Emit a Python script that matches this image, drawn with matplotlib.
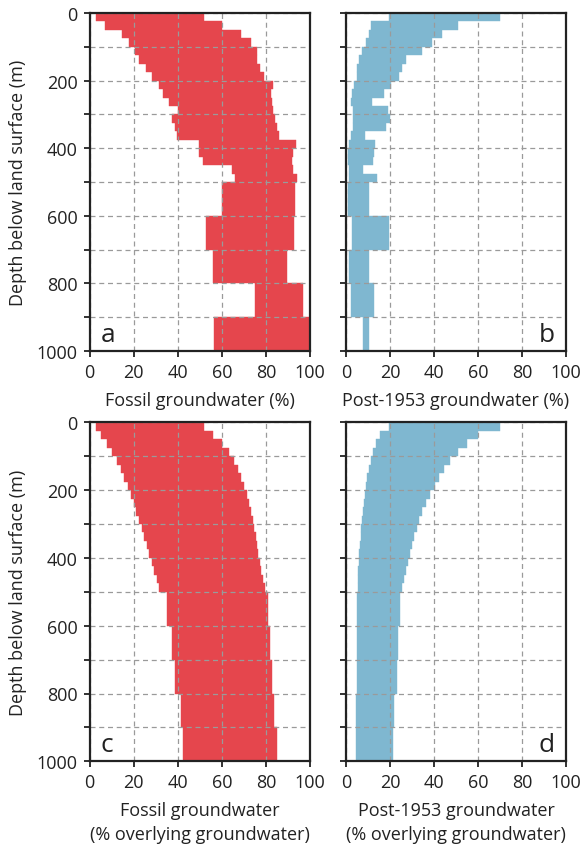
import numpy as np
import matplotlib
matplotlib.use('Agg')
import matplotlib.pyplot as plt

plt.rcParams['font.family'] = ['Open Sans', 'DejaVu Sans']

# depth bins (m): 25 m down to 500 m, then 100 m
depth_top = [0, 25, 50, 75, 100, 125, 150, 175, 200, 225, 250, 275, 300, 325, 350,
             375, 400, 425, 450, 475, 500, 600, 700, 800, 900]
depth_bottom = [25, 50, 75, 100, 125, 150, 175, 200, 225, 250, 275, 300, 325, 350, 375,
                400, 425, 450, 475, 500, 600, 700, 800, 900, 1000]

# a: fossil groundwater (%)
fossil_lo = [2.8, 7.0, 14.9, 17.9, 20.6, 22.6, 25.5, 28.2, 31.5, 33.5, 35.9, 40.0, 37.3,
             38.8, 39.7, 49.7, 49.7, 51.6, 64.5, 66.0, 60.0, 52.8, 56.2, 75.1, 56.5]
fossil_hi = [52.1, 60.2, 68.9, 73.1, 75.8, 75.8, 77.3, 79.3, 83.1, 82.2, 82.6, 83.4, 84.0,
             85.2, 86.1, 93.6, 92.4, 91.7, 92.5, 93.9, 93.2, 92.9, 89.4, 96.7, 100.0]

# b: post-1953 groundwater (%)
post_lo = [19.7, 11.4, 10.6, 9.1, 7.1, 6.1, 4.8, 4.8, 3.8, 2.6, 2.1, 3.3, 3.3, 3.3, 2.1,
           1.5, 1.1, 1.1, 1.5, 1.5, 1.0, 2.6, 1.5, 2.1, 7.6]
post_hi = [70.0, 50.8, 43.5, 38.9, 34.4, 27.1, 25.3, 24.1, 20.3, 17.4, 11.7, 19.3, 20.0,
           18.2, 8.6, 13.2, 12.9, 12.1, 7.9, 14.0, 10.6, 19.7, 10.6, 12.9, 10.6]

# c: fossil groundwater (% overlying groundwater)
fossil_ov_lo = [2.8, 5.1, 7.8, 10.4, 12.3, 14.1, 15.8, 17.3, 18.7, 20.0, 21.3, 22.5, 23.7,
                24.9, 26.0, 27.2, 28.3, 29.3, 30.5, 31.6, 35.3, 37.3, 38.8, 41.4, 42.6]
fossil_ov_hi = [52.1, 56.2, 60.2, 63.3, 65.5, 67.5, 68.9, 70.1, 71.3, 72.3, 73.2, 74.0, 74.8,
                75.3, 75.8, 76.6, 77.1, 77.9, 78.5, 79.4, 80.8, 82.0, 82.9, 83.8, 85.2]

# d: post-1953 groundwater (% overlying groundwater)
post_ov_lo = [19.7, 15.5, 13.6, 12.4, 11.2, 10.5, 9.7, 9.1, 8.5, 8.0, 7.6, 7.3, 7.0, 6.7,
              6.4, 6.1, 5.8, 5.6, 5.5, 5.3, 5.2, 4.8, 4.8, 4.7, 4.7]
post_ov_hi = [70.0, 59.8, 55.2, 50.8, 47.3, 44.7, 42.3, 40.3, 38.2, 36.4, 34.5, 33.2, 32.1,
              31.1, 30.0, 29.1, 28.2, 27.3, 26.4, 25.6, 24.5, 23.8, 23.0, 22.0, 21.2]

red = '#e5464d'
blue = '#7fb7d0'

W, H = 585, 845
fig = plt.figure(figsize=(W / 100, H / 100), dpi=100)


def make_ax(x0, x1, y0, y1):
    return fig.add_axes([x0 / W, 1 - y1 / H, (x1 - x0) / W, (y1 - y0) / H])


panels = [
    (make_ax(89.5, 310, 14, 352), fossil_lo, fossil_hi, red, 'a', 'left',
     'Fossil groundwater (%)', True),
    (make_ax(346, 566, 14, 352), post_lo, post_hi, blue, 'b', 'right',
     'Post-1953 groundwater (%)', False),
    (make_ax(89.5, 310, 423.3, 762.3), fossil_ov_lo, fossil_ov_hi, red, 'c', 'left',
     'Fossil groundwater\n(% overlying groundwater)', True),
    (make_ax(346, 566, 423.3, 762.3), post_ov_lo, post_ov_hi, blue, 'd', 'right',
     'Post-1953 groundwater\n(% overlying groundwater)', False),
]

top = np.array(depth_top)
size = np.array(depth_bottom) - top

for ax, lo, hi, col, letter, side, xlab, ylabels in panels:
    lo = np.array(lo)
    hi = np.array(hi)
    ax.barh(top, hi - lo, left=lo, height=size, align='edge', color=col,
            edgecolor=col, linewidth=0.3, zorder=1)
    ax.set_xlim(0, 100)
    ax.set_ylim(1000, 0)
    ax.set_xticks(range(0, 101, 20))
    ax.set_yticks(range(0, 1001, 100))
    if ylabels:
        ax.set_yticklabels([str(v) if v % 200 == 0 else '' for v in range(0, 1001, 100)])
        ax.set_ylabel('Depth below land surface (m)', fontsize=13, labelpad=7,
                      color='#222222')
    else:
        ax.set_yticklabels([])
    ax.grid(True, color='#9a9a9a', linestyle=(0, (4, 3)), linewidth=0.9, zorder=2)
    ax.set_axisbelow(False)
    ax.tick_params(direction='out', length=4, width=1.3, labelsize=13,
                   colors='#222222', pad=4.5)
    for sp in ax.spines.values():
        sp.set_linewidth(1.6)
        sp.set_color('#222222')
        sp.set_zorder(3)
    ax.set_xlabel(xlab, fontsize=13, labelpad=7, linespacing=1.45, color='#222222')
    if side == 'left':
        ax.text(5, 950, letter, fontsize=19, ha='left', va='center', color='#222222')
    else:
        ax.text(95, 950, letter, fontsize=19, ha='right', va='center', color='#222222')

fig.savefig('out.png', dpi=100)
